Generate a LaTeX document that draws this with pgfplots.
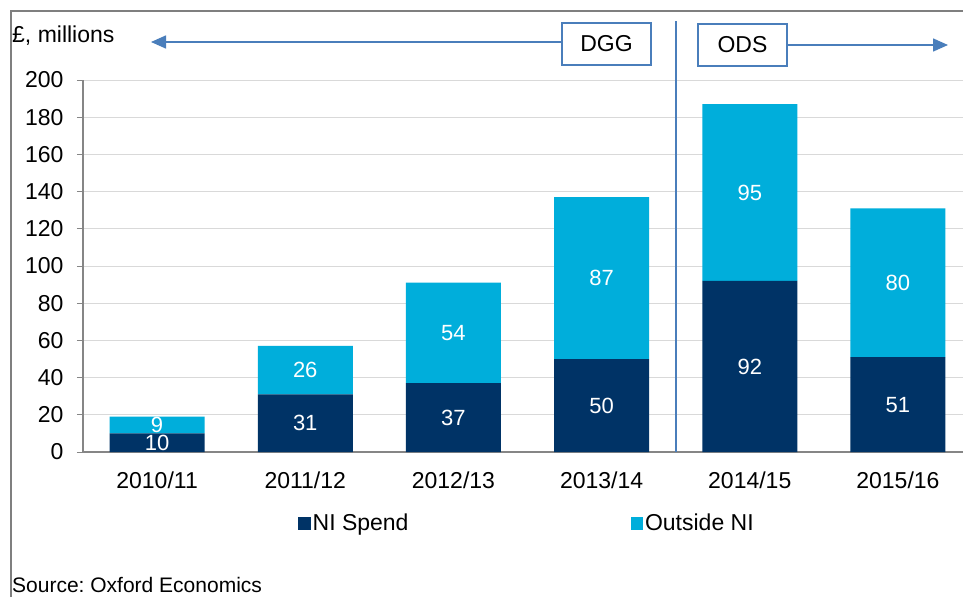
\documentclass[border=0pt]{standalone}
\usepackage{pgfplots}
\pgfplotsset{compat=1.18}
\usepackage{pgfplotstable}
\usepackage{fontspec}
\setmainfont{Liberation Sans}
\usetikzlibrary{arrows.meta}
\frenchspacing
\definecolor{navy}{HTML}{003366}
\definecolor{cyanbar}{HTML}{00AEDB}
\definecolor{arrowblue}{HTML}{4A7EBB}
\definecolor{gridgray}{HTML}{D9D9D9}
\definecolor{axisgray}{HTML}{868686}
\definecolor{framegray}{HTML}{7F7F7F}
\pgfplotstableread{
x ni out
0 10 9
1 31 26
2 37 54
3 50 87
4 92 95
5 51 80
}\data
\pgfplotsset{
  sqlegend/.style={legend image code/.code={\fill[##1] (0pt,-6.5pt) rectangle (12.5pt,6.5pt);}},
  centerlabels/.style={
    nodes near coords,
    point meta=explicit,
    every node near coord/.append style={anchor=center, text=white,
      font=\fontsize{22}{26}\selectfont}
  }
}
\begin{document}
\begin{tikzpicture}
\fill[white] (0pt,0pt) rectangle (963pt,-597pt);
\useasboundingbox (0pt,0pt) rectangle (963pt,-597pt);
\begin{axis}[
  at={(83pt,-452pt)}, anchor=south west,
  scale only axis, width=889pt, height=372pt,
  xmin=-0.5, xmax=5.5, ymin=0, ymax=200,
  enlargelimits=false,
  ybar stacked, bar width=95pt,
  axis x line*=bottom, axis y line*=left,
  axis line style={draw=axisgray, line width=1.3pt},
  ytick={0,20,...,200},
  xtick={0,...,5},
  xticklabels={2010/11,2011/12,2012/13,2013/14,2014/15,2015/16},
  xtick style={draw=none},
  ytick style={draw=axisgray, line width=1pt},
  tick align=outside, major tick length=6pt,
  ymajorgrids, grid style={draw=gridgray, line width=1pt},
  tick label style={font=\fontsize{23}{27}\selectfont},
  yticklabel style={xshift=-10pt},
  xticklabel style={yshift=-10pt},
  /pgf/number format/assume math mode=true,
  legend columns=2,
  legend style={draw=none, fill=none, at={(0.2418,-0.191)}, anchor=west, font=\fontsize{23}{27}\selectfont, /tikz/every even column/.append style={column sep=220pt}, inner sep=0pt},
  legend cell align=left,
]
\addplot[fill=navy, draw=none, sqlegend, centerlabels]
  table[x=x,y=ni,meta=ni]{\data};
\addlegendentry{NI Spend}
\addplot[fill=cyanbar, draw=none, sqlegend, centerlabels]
  table[x=x,y=out,meta=out]{\data};
\addlegendentry{Outside NI}
\end{axis}
\draw[framegray, line width=1.3pt] (11pt,-597pt) -- (11pt,-11pt) -- (963pt,-11pt);
\node[anchor=west, inner sep=0pt, font=\fontsize{23}{27}\selectfont] at (12pt,-36pt) {£, millions};
\draw[arrowblue, line width=1.5pt] (676pt,-21pt) -- (676pt,-452pt);
\draw[arrowblue, line width=1.5pt, -{Triangle[length=15pt,width=13pt]}] (562pt,-42pt) -- (151pt,-42pt);
\draw[arrowblue, line width=1.5pt, -{Triangle[length=15pt,width=13pt]}] (787pt,-45pt) -- (948pt,-45pt);
\node[draw=arrowblue, line width=1.5pt, minimum width=89pt, minimum height=42pt, inner sep=0pt, font=\fontsize{23}{27}\selectfont] at (606.5pt,-44pt) {DGG};
\node[draw=arrowblue, line width=1.5pt, minimum width=89pt, minimum height=42pt, inner sep=0pt, font=\fontsize{23}{27}\selectfont] at (742.5pt,-45pt) {ODS};
\node[anchor=west, inner sep=0pt, font=\fontsize{21}{25}\selectfont] at (12pt,-585pt) {Source: Oxford Economics};
\end{tikzpicture}
\end{document}
